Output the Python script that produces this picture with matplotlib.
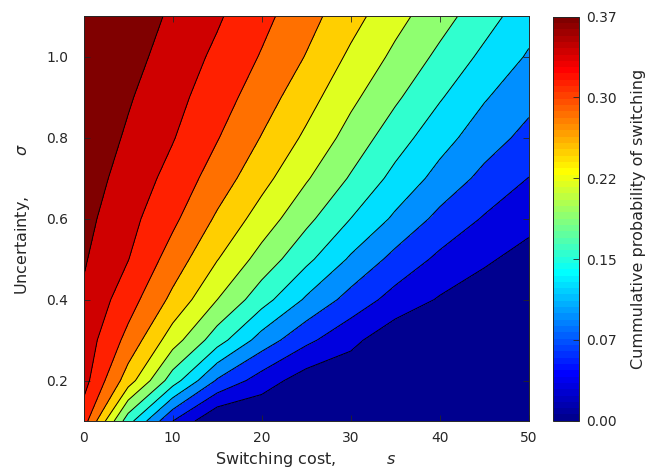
import numpy as np
import matplotlib

matplotlib.use('Agg')
import matplotlib.pyplot as plt
from matplotlib.colors import ListedColormap, Normalize
from matplotlib.cm import ScalarMappable

# switching cost s (columns) and uncertainty sigma (rows)
switch_cost = [0, 5, 10, 15, 20, 25, 30, 35, 40, 45, 50]
uncertainty = [0.1, 0.2, 0.3, 0.4, 0.5, 0.6, 0.7, 0.8, 0.9, 1.0, 1.1]

# cumulative probability of switching, one list per sigma row
p_sigma_01 = [0.323, 0.167, 0.062, 0.000, 0.000, 0.000, 0.000, 0.000, 0.000, 0.000, 0.000]
p_sigma_02 = [0.351, 0.262, 0.169, 0.089, 0.047, 0.015, 0.009, 0.006, 0.004, 0.003, 0.002]
p_sigma_03 = [0.357, 0.299, 0.230, 0.168, 0.110, 0.069, 0.039, 0.010, 0.006, 0.004, 0.003]
p_sigma_04 = [0.366, 0.322, 0.270, 0.216, 0.167, 0.119, 0.081, 0.050, 0.028, 0.012, 0.008]
p_sigma_05 = [0.373, 0.340, 0.295, 0.248, 0.204, 0.162, 0.119, 0.083, 0.055, 0.036, 0.018]
p_sigma_06 = [0.379, 0.349, 0.315, 0.273, 0.233, 0.193, 0.154, 0.118, 0.084, 0.059, 0.042]
p_sigma_07 = [0.385, 0.358, 0.329, 0.294, 0.257, 0.219, 0.182, 0.145, 0.113, 0.084, 0.061]
p_sigma_08 = [0.391, 0.366, 0.341, 0.310, 0.276, 0.241, 0.204, 0.168, 0.135, 0.107, 0.083]
p_sigma_09 = [0.397, 0.373, 0.349, 0.323, 0.292, 0.259, 0.223, 0.190, 0.157, 0.126, 0.102]
p_sigma_10 = [0.404, 0.381, 0.357, 0.333, 0.306, 0.276, 0.241, 0.209, 0.178, 0.147, 0.120]
p_sigma_11 = [0.410, 0.388, 0.365, 0.343, 0.317, 0.289, 0.258, 0.226, 0.197, 0.167, 0.136]

cbar_ticks = [0.0, 0.074, 0.148, 0.222, 0.296, 0.37]
cbar_max = 0.37
n_lines = 12


def matlab_jet(m=64):
    # MATLAB's jet(m) colormap
    n = int(np.ceil(m / 4))
    u = np.concatenate([np.arange(1, n + 1) / n, np.ones(n - 1), np.arange(n, 0, -1) / n])
    g = int(np.ceil(n / 2)) - (1 if m % 4 == 1 else 0) + np.arange(1, len(u) + 1)
    r = g + n
    b = g - n
    cmap = np.zeros((m, 3))
    for idx, ch in ((r, 0), (g, 1), (b, 2)):
        ok = (idx >= 1) & (idx <= m)
        cmap[idx[ok] - 1, ch] = u[ok]
    return cmap


jet64 = matlab_jet(64)
band_colors = [jet64[min(int(k * 64 / n_lines), 63)] for k in range(n_lines + 1)]

text_col = '#262626'

fig = plt.figure(figsize=(6.48, 4.76), dpi=100)
ax = fig.add_axes([0.129, 0.1155, 0.687, 0.850])

X, Y = np.meshgrid(switch_cost, uncertainty)
Z = np.array([p_sigma_01, p_sigma_02, p_sigma_03, p_sigma_04, p_sigma_05, p_sigma_06,
              p_sigma_07, p_sigma_08, p_sigma_09, p_sigma_10, p_sigma_11])

line_levels = np.linspace(0, cbar_max, n_lines + 1)[1:]
fill_levels = np.concatenate([[-1.0], line_levels, [1.0]])
ax.contourf(X, Y, Z, levels=fill_levels, colors=band_colors)
ax.contour(X, Y, Z, levels=line_levels, colors='k', linewidths=0.7)

ax.set_xlim(0, 50)
ax.set_ylim(0.1, 1.1)
ax.set_xticks([0, 10, 20, 30, 40, 50])
ax.set_yticks([0.2, 0.4, 0.6, 0.8, 1.0])
ax.tick_params(direction='in', top=True, right=True, length=4, width=0.6,
               colors=text_col, labelsize=10)
ax.tick_params(axis='x', pad=7)
ax.tick_params(axis='y', pad=11)
for sp in ax.spines.values():
    sp.set_color(text_col)
    sp.set_linewidth(0.7)

ax.set_xlabel('Switching cost,' + ' ' * 10 + '$s$', fontsize=11.5, color=text_col, labelpad=4)
ax.set_ylabel('Uncertainty,' + ' ' * 8 + r'$\sigma$', fontsize=11.5, color=text_col, labelpad=10)

cax = fig.add_axes([0.854, 0.116, 0.0397, 0.849])
sm = ScalarMappable(norm=Normalize(0, cbar_max), cmap=ListedColormap(jet64))
cb = fig.colorbar(sm, cax=cax)
cb.set_ticks(cbar_ticks)
cb.ax.set_yticklabels([f'{t:.2f}' for t in cbar_ticks])
cb.ax.tick_params(direction='in', length=4, width=0.6, colors=text_col, labelsize=10, pad=5)
cb.outline.set_edgecolor(text_col)
cb.outline.set_linewidth(0.7)
cb.set_label('Cummulative probability of switching', fontsize=11.5, color=text_col, labelpad=10)

plt.savefig('out.png', dpi=100)
plt.close()
